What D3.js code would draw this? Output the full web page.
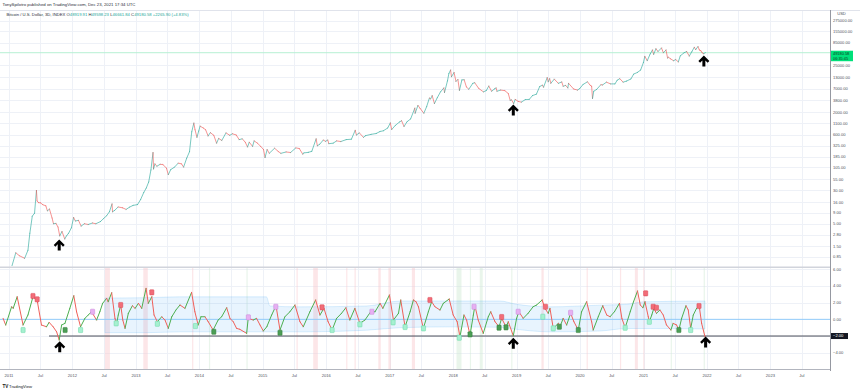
<!DOCTYPE html>
<html>
<head>
<meta charset="utf-8">
<script src="https://cdn.jsdelivr.net/npm/d3@7/dist/d3.min.js"></script>
<style>
  html, body { margin: 0; padding: 0; background: #fff; }
  svg { display: block; font-family: "Liberation Sans", Arial, sans-serif; }
</style>
</head>
<body>
<div id="chart"></div>
<script>
// BTC price track (3D candles)
const priceDates = [
  "2011-01-01","2011-02-09","2011-03-01","2011-04-01","2011-04-20","2011-05-01","2011-05-15","2011-05-28","2011-06-08","2011-06-12",
  "2011-06-20","2011-07-01","2011-07-15","2011-08-01","2011-08-10","2011-08-22","2011-09-06","2011-09-14","2011-09-28","2011-10-10",
  "2011-10-20","2011-11-02","2011-11-18","2011-11-28","2011-12-10","2011-12-26",
  "2012-01-08","2012-01-18","2012-02-05","2012-02-20","2012-03-10","2012-04-01","2012-04-25","2012-05-15","2012-06-10","2012-06-30",
  "2012-07-15","2012-08-01","2012-08-16","2012-08-19","2012-09-01","2012-09-20","2012-10-15","2012-11-05","2012-11-25","2012-12-15",
  "2013-01-10","2013-01-28","2013-02-15","2013-03-01","2013-03-15","2013-03-28","2013-04-09","2013-04-12","2013-04-20","2013-05-01",
  "2013-05-20","2013-06-05","2013-06-25","2013-07-06","2013-07-20","2013-08-10","2013-09-01","2013-09-20","2013-10-02","2013-10-20",
  "2013-11-05","2013-11-18","2013-11-30","2013-12-07","2013-12-18","2013-12-28",
  "2014-01-05","2014-01-25","2014-02-06","2014-02-20","2014-03-05","2014-03-25","2014-04-10","2014-04-22","2014-05-10","2014-06-03",
  "2014-06-25","2014-07-10","2014-08-01","2014-08-18","2014-09-05","2014-09-22","2014-10-05","2014-10-15","2014-11-03","2014-11-12",
  "2014-12-01","2014-12-20",
  "2015-01-05","2015-01-14","2015-01-26","2015-02-07","2015-03-10","2015-03-30","2015-04-15","2015-05-15","2015-06-10","2015-07-10",
  "2015-07-30","2015-08-19","2015-08-25","2015-09-20","2015-10-10","2015-11-04","2015-11-11","2015-11-25","2015-12-15","2015-12-28",
  "2016-01-10","2016-01-16","2016-02-10","2016-03-01","2016-03-25","2016-04-25","2016-05-25","2016-06-16","2016-06-23","2016-07-10",
  "2016-08-02","2016-08-15","2016-09-15","2016-10-15","2016-11-05","2016-11-25","2016-12-20",
  "2017-01-04","2017-01-12","2017-02-01","2017-02-25","2017-03-10","2017-03-24","2017-04-10","2017-05-01","2017-05-25","2017-05-27",
  "2017-06-12","2017-06-25","2017-07-16","2017-08-01","2017-08-17","2017-08-24","2017-09-02","2017-09-15","2017-10-01","2017-10-20",
  "2017-11-08","2017-11-12","2017-11-29","2017-12-07","2017-12-17","2017-12-22",
  "2018-01-06","2018-01-17","2018-01-28","2018-02-06","2018-02-20","2018-03-05","2018-03-18","2018-04-01","2018-04-24","2018-05-05",
  "2018-05-28","2018-06-24","2018-07-10","2018-07-25","2018-08-10","2018-08-28","2018-09-05","2018-09-10","2018-10-01","2018-10-25",
  "2018-11-14","2018-11-25","2018-12-03","2018-12-15","2018-12-24",
  "2019-01-10","2019-01-28","2019-02-20","2019-03-15","2019-04-02","2019-04-25","2019-05-14","2019-05-30","2019-06-05","2019-06-26",
  "2019-07-02","2019-07-10","2019-07-17","2019-08-06","2019-08-29","2019-09-18","2019-09-26","2019-10-10","2019-10-23","2019-10-27",
  "2019-11-25","2019-12-18","2019-12-31",
  "2020-01-18","2020-02-13","2020-02-28","2020-03-08","2020-03-13","2020-03-20","2020-04-05","2020-04-30","2020-05-10","2020-06-01",
  "2020-06-25","2020-07-20","2020-08-02","2020-08-17","2020-09-05","2020-09-25","2020-10-20","2020-11-05","2020-11-26","2020-12-15",
  "2020-12-31",
  "2021-01-08","2021-01-22","2021-02-08","2021-02-21","2021-02-28","2021-03-13","2021-03-25","2021-04-14","2021-04-25","2021-05-10",
  "2021-05-19","2021-05-24","2021-06-05","2021-06-22","2021-07-05","2021-07-20","2021-07-31","2021-08-22","2021-09-06","2021-09-21",
  "2021-10-05","2021-10-20","2021-10-28","2021-11-10","2021-11-18","2021-11-27","2021-12-04","2021-12-13","2021-12-23"
];
const priceValues = [
  0.30,1.05,0.90,0.78,1.20,3.0,7.5,8.8,30.0,17.0,
  15.5,15.4,13.9,13.1,10.0,11.0,6.8,5.0,5.1,4.2,
  2.6,3.3,2.2,2.6,3.0,4.0,
  7.0,5.8,6.0,4.4,5.0,4.8,5.2,5.0,5.6,6.7,
  7.6,9.5,14.5,9.5,10.3,12.3,11.8,10.8,12.2,13.4,
  14,18.5,27,34,47,90,230,95,125,110,
  122,120,100,70,92,104,130,125,105,170,
  240,700,1120,780,520,730,
  950,850,780,560,670,580,380,490,440,660,
  580,630,590,460,480,400,310,400,320,430,
  380,320,
  270,175,270,220,290,245,220,237,230,295,
  285,210,225,232,245,480,330,360,450,420,
  450,370,380,430,415,460,470,760,590,660,
  520,570,610,640,710,740,860,
  1130,790,980,1180,1270,930,1200,1400,2500,1900,
  2900,2450,1900,2700,4300,4100,4900,3200,4350,6000,
  7400,5800,10800,16000,19400,13500,
  17000,10500,11700,6500,11400,11500,7800,6900,9500,9800,
  7200,6000,6400,8200,6200,7100,7400,6200,6600,6400,
  5500,3800,3900,3200,4000,
  3600,3450,3950,4000,4900,5300,8000,8600,7700,12900,
  10300,12200,9500,11900,9500,10200,8100,8500,7400,9500,
  7000,6600,7200,
  8900,10300,8600,8100,4200,6200,6800,8800,8700,10100,
  9200,9200,11200,12200,10100,10700,12000,15600,17000,19400,
  29000,
  40500,32000,46000,57000,45000,61000,52500,63500,49000,57000,
  37000,38500,35500,32000,34000,30000,41500,49000,52500,41000,
  51500,66000,58000,68500,57000,54500,49000,46700,49180
];
const lastPrice = 49180.58;

const priceTicks = [275000,155000,85000,25000,13000,7000,3800,2000,1100,600,325,185,105,55,30,16,9,5,2.8,1.5,0.85];
const oscTicks = [6,4,2,0,-4];

// cycle oscillator turning points
const oscDates = [
  "2010-11-28","2010-12-13","2011-01-16","2011-01-25","2011-02-17","2011-03-23","2011-04-20","2011-05-19","2011-06-12","2011-07-07",
  "2011-08-05","2011-08-20","2011-09-12","2011-10-02","2011-10-17","2011-10-31","2011-11-19","2011-12-17","2012-01-09","2012-01-25",
  "2012-02-17","2012-03-13","2012-04-01","2012-04-20","2012-05-19","2012-06-07","2012-06-23","2012-07-16","2012-07-25","2012-08-14",
  "2012-09-02","2012-09-12","2012-09-21","2012-10-05","2012-10-17","2012-10-30","2012-11-18","2012-12-11","2012-12-27","2013-01-15",
  "2013-02-03","2013-02-28","2013-03-13","2013-04-02","2013-04-15","2013-05-04","2013-05-29","2013-06-17","2013-07-06","2013-07-26",
  "2013-08-19","2013-09-11","2013-10-10","2013-11-17","2013-12-06","2013-12-25","2014-01-10","2014-02-02","2014-02-21","2014-03-21",
  "2014-04-19","2014-05-09","2014-06-07","2014-06-26","2014-07-15","2014-08-03","2014-08-22","2014-09-30","2014-10-09","2014-11-07",
  "2014-11-26","2014-12-16","2015-01-04","2015-01-24","2015-02-21","2015-03-18","2015-04-10","2015-05-08","2015-06-06","2015-07-05",
  "2015-08-03","2015-08-22","2015-09-29","2015-11-01","2015-11-26","2015-12-19","2016-01-12","2016-02-04","2016-03-01","2016-03-29",
  "2016-04-23","2016-05-16","2016-06-14","2016-07-13","2016-08-11","2016-09-13","2016-10-08","2016-11-06","2016-11-22","2016-12-30",
  "2017-01-22","2017-02-20","2017-03-05","2017-03-30","2017-04-28","2017-05-17","2017-06-01","2017-06-15","2017-07-13","2017-08-11",
  "2017-08-30","2017-09-18","2017-10-17","2017-11-05","2017-12-09","2018-01-01","2018-01-24","2018-02-09","2018-03-04","2018-03-19",
  "2018-04-08","2018-04-27","2018-05-06","2018-05-25","2018-06-23","2018-07-22","2018-08-05","2018-08-30","2018-09-22","2018-10-07",
  "2018-11-01","2018-11-14","2018-12-13","2019-01-01","2019-01-14","2019-02-08","2019-03-08","2019-04-06","2019-04-26","2019-05-28",
  "2019-06-13","2019-07-02","2019-07-12","2019-07-31","2019-08-29","2019-09-08","2019-09-26","2019-10-16","2019-11-08","2019-11-27",
  "2019-12-22","2020-01-10","2020-02-08","2020-03-08","2020-03-17","2020-04-15","2020-05-11","2020-06-03","2020-06-22","2020-07-17",
  "2020-08-15","2020-08-29","2020-09-17","2020-10-16","2020-11-04","2020-11-27","2020-12-13","2020-12-28","2021-01-09","2021-01-28",
  "2021-02-03","2021-02-17","2021-03-01","2021-03-16","2021-04-05","2021-04-24","2021-05-13","2021-06-07","2021-06-20","2021-07-10",
  "2021-07-23","2021-08-08","2021-09-02","2021-09-15","2021-09-29","2021-10-14","2021-11-02","2021-11-17","2021-12-01","2021-12-20"
];
const oscValues = [
  0.12,-0.68,1.51,1.32,2.71,-0.68,0.52,2.71,2.30,-0.68,
  -0.89,-0.36,-0.89,-1.49,-2.48,-0.68,-0.48,1.32,2.83,0.91,
  -0.89,0.12,0.52,0.91,-0.08,0.91,1.92,2.52,2.11,3.19,
  0.12,-0.48,0.52,1.72,-0.08,-1.08,0.72,1.63,1.32,1.92,
  1.32,3.72,1.92,2.71,0.52,-0.29,0.31,-0.08,-1.08,0.31,
  1.12,1.72,1.32,3.24,0.91,-0.68,0.31,0.31,-0.29,-1.28,
  -0.08,0.31,1.39,0.12,-0.29,-1.08,-1.20,-1.68,0.12,-0.08,
  0.12,-0.68,-1.40,-0.89,0.52,1.63,-1.28,0.31,0.91,1.72,
  -0.29,-0.89,0.91,2.32,0.52,1.32,-0.29,-1.28,0.12,0.72,
  1.39,-0.08,1.32,-0.48,-0.08,0.91,0.91,1.92,1.32,2.92,
  -0.08,0.72,2.32,-0.89,0.91,2.32,2.11,1.51,-1.08,0.91,
  2.11,1.51,1.12,1.92,2.44,0.52,-0.29,-2.09,0.52,-0.08,
  -1.88,0.52,1.63,-0.08,-1.68,0.31,0.91,-0.29,-0.89,0.12,
  -0.89,-0.29,-1.97,0.12,0.91,0.12,0.72,1.51,1.72,2.32,
  1.32,0.72,1.32,-1.08,-0.48,-0.89,0.12,-0.68,0.72,-0.29,
  -1.28,0.91,2.11,-0.29,-1.28,0.31,1.63,0.52,0.31,0.91,
  1.92,0.12,-1.01,0.91,2.11,3.40,1.72,1.39,2.11,0.31,
  -0.29,0.52,1.32,0.72,1.12,0.52,-0.68,-1.28,-0.48,-0.68,
  -1.28,0.12,1.63,1.12,-1.08,0.52,1.32,1.63,-0.48,-2.05
];

// shaded channel around the oscillator
const bandDates = ["2012-07-06","2013-03-05","2013-09-11","2015-01-22","2015-02-11","2015-08-03","2016-08-20","2017-02-28","2017-12-13","2018-09-27","2019-01-01","2019-07-12","2020-04-23","2020-09-26","2020-12-30","2021-12-20"];
const bandUpper = [2.55,2.6,2.7,2.7,1.6,1.5,1.6,2.2,2.2,2.2,1.8,1.5,1.7,1.8,2.1,2.2];
const bandLower = [-1.6,-1.6,-1.5,-1.5,-1.5,-1.5,-1.3,-1.0,-0.9,-0.95,-1.2,-1.5,-1.4,-1.1,-1.1,-1.15];

// vertical highlight columns in the lower pane
const shadeStart = ["2012-07-06","2013-02-12","2013-11-20","2015-07-14","2015-10-18","2016-04-25","2016-06-12","2016-10-27","2016-12-24","2017-05-08","2019-05-24","2020-02-08","2020-08-18","2020-11-12","2020-12-30",
                    "2014-02-25","2014-09-29","2018-01-20","2018-04-07","2018-06-03","2018-12-01","2021-06-06","2021-12-13"];
const shadeEnd   = ["2012-08-04","2013-03-10","2013-11-24","2015-07-17","2015-11-14","2016-04-28","2016-06-15","2016-11-10","2017-01-07","2017-05-26","2019-06-06","2020-02-11","2020-08-21","2020-11-29","2021-01-02",
                    "2014-02-28","2014-10-02","2018-02-18","2018-04-10","2018-06-20","2018-12-04","2021-06-09","2021-12-16"];
const shadeKind  = ["red","red","red","red","red","red","red","red","red","red","red","red","red","red","red",
                    "green","green","green","green","green","green","green","green"];

// small signal tags on the oscillator
const tagDates = ["2011-05-19","2011-06-12","2011-03-23","2011-11-20","2012-02-17","2012-04-26","2012-09-09","2012-10-05","2013-05-04","2013-04-02","2013-12-09","2014-03-25","2014-10-10","2015-03-17","2015-04-10",
                  "2015-12-08","2016-02-04","2016-09-20","2016-07-13","2017-01-20","2017-03-30","2017-07-14","2017-08-20","2018-02-05","2018-04-08","2018-05-01","2018-09-22","2018-10-07","2018-11-01","2019-01-10",
                  "2019-06-16","2019-06-01","2019-07-31","2019-09-04","2019-11-08","2019-12-22","2020-09-17","2021-01-13","2021-02-03","2021-02-25","2021-03-16","2021-07-23","2021-09-29","2021-11-16"];
const tagValues = [2.8,2.4,-1.28,-1.28,-1.28,0.91,-0.48,1.72,-0.53,3.24,-0.8,-1.49,0.24,1.51,-1.61,
                   1.44,-1.28,0.91,-0.6,-0.36,-0.92,-1.08,2.32,-2.2,-1.8,1.51,-1.0,0.28,-0.96,0.91,
                   1.51,0.31,-1.08,-0.89,0.79,-1.28,-1.01,3.12,-0.29,1.51,1.39,-1.28,-1.28,1.6];
const tagKinds = ["red","red","mint","dark","mint","pink","mint","red","mint","red","mint","dark","pink","pink","dark",
                  "red","mint","pink","mint","mint","mint","mint","red","mint","dark","pink","dark","red","dark","pink",
                  "red","mint","mint","dark","pink","dark","mint","red","mint","red","red","dark","mint","red"];

// arrows drawn on the chart
const arrowDates = ["2011-10-17","2018-12-13","2021-12-14"];
const arrowPrice = [1.6,2250,31500];
const arrowOscDates = ["2011-10-20","2018-12-13","2021-12-24"];
const arrowOsc = [-3.29,-2.88,-2.72];

const W = 860, H = 391;
const plotRight = 830;
const pane1 = { top: 11, bottom: 266 };
const pane2 = { top: 268, bottom: 369 };
const parse = d3.timeParse("%Y-%m-%d");

const x = d3.scaleTime()
  .domain([new Date(2011, 0, 1), new Date(2022, 0, 1)])
  .range([9, 707]);
const y = d3.scaleLog().domain([0.85, 275000]).range([256.7, 20.7]);
const yo = d3.scaleLinear().domain([-4, 4]).range([352.7, 286]);

const svg = d3.select("#chart").append("svg")
  .attr("width", W).attr("height", H);

svg.append("rect").attr("width", W).attr("height", H).attr("fill", "#fff");

const defs = svg.append("defs");
defs.append("clipPath").attr("id", "clip1").append("rect")
  .attr("x", 0).attr("y", pane1.top).attr("width", plotRight).attr("height", pane1.bottom - pane1.top);
defs.append("clipPath").attr("id", "clip2").append("rect")
  .attr("x", 0).attr("y", pane2.top).attr("width", plotRight).attr("height", pane2.bottom - pane2.top);

// grid
const halfYears = d3.timeMonth.every(6).range(new Date(2011, 0, 1), new Date(2024, 0, 1));
const grid = svg.append("g");
grid.selectAll(".vg").data(halfYears).enter().append("line")
  .attr("x1", d => Math.round(x(d)) + 0.5).attr("x2", d => Math.round(x(d)) + 0.5)
  .attr("y1", pane1.top).attr("y2", pane2.bottom)
  .attr("stroke", "#eef1f7").attr("stroke-width", 1);
grid.selectAll(".hg").data(priceTicks).enter().append("line")
  .attr("x1", 0).attr("x2", plotRight)
  .attr("y1", d => Math.round(y(d)) + 0.5).attr("y2", d => Math.round(y(d)) + 0.5)
  .attr("stroke", "#eef1f7");
grid.selectAll(".og").data([6, 4, 2, -2, -4]).enter().append("line")
  .attr("x1", 0).attr("x2", plotRight)
  .attr("y1", d => Math.round(yo(d)) + 0.5).attr("y2", d => Math.round(yo(d)) + 0.5)
  .attr("stroke", "#eef1f7");

// frame lines
svg.append("line").attr("x1", 0).attr("x2", W).attr("y1", 10.5).attr("y2", 10.5).attr("stroke", "#e0e3eb");
svg.append("rect").attr("x", 0).attr("y", 266.5).attr("width", plotRight).attr("height", 1.5).attr("fill", "#d1d4dc");
svg.append("line").attr("x1", plotRight + 0.5).attr("x2", plotRight + 0.5).attr("y1", 10).attr("y2", 371).attr("stroke", "#9598a1");
svg.append("line").attr("x1", 0).attr("x2", plotRight).attr("y1", pane2.bottom + 0.5).attr("y2", pane2.bottom + 0.5).attr("stroke", "#b2b5be");

// ---- price pane ----
const p1 = svg.append("g").attr("clip-path", "url(#clip1)");
p1.append("line").attr("x1", 0).attr("x2", plotRight)
  .attr("y1", y(lastPrice)).attr("y2", y(lastPrice))
  .attr("stroke", "#b6f0d3").attr("stroke-width", 1);

const prices = priceDates.map((d, i) => ({ t: parse(d), v: priceValues[i] }));
p1.selectAll(".seg").data(d3.pairs(prices)).enter().append("line")
  .attr("x1", d => x(d[0].t)).attr("y1", d => y(d[0].v))
  .attr("x2", d => x(d[1].t)).attr("y2", d => y(d[1].v))
  .attr("stroke", d => d[1].v >= d[0].v ? "#26a69a" : "#ef5350")
  .attr("stroke-opacity", 0.62)
  .attr("stroke-width", 1)
  .attr("stroke-linecap", "round");

const arrowPath = "M0,-5.5 L5.5,0 L3.8,1.7 L1.5,-0.6 L1.5,5.5 L-1.5,5.5 L-1.5,-0.6 L-3.8,1.7 L-5.5,0 Z";
p1.selectAll(".arr").data(arrowDates).enter().append("path")
  .attr("d", arrowPath)
  .attr("transform", (d, i) => `translate(${x(parse(d))},${y(arrowPrice[i])})`)
  .attr("fill", "#000");

// ---- oscillator pane ----
const p2 = svg.append("g").attr("clip-path", "url(#clip2)");

p2.selectAll(".shade").data(shadeStart).enter().append("rect")
  .attr("x", d => x(parse(d)))
  .attr("width", (d, i) => Math.max(1.2, x(parse(shadeEnd[i])) - x(parse(d))))
  .attr("y", pane2.top).attr("height", pane2.bottom - pane2.top)
  .attr("fill", (d, i) => shadeKind[i] === "red" ? "#f8c8cc" : "#cfe8d2")
  .attr("opacity", 0.45);

const band = bandDates.map((d, i) => ({ t: parse(d), hi: bandUpper[i], lo: bandLower[i] }));
p2.append("path").datum(band)
  .attr("d", d3.area().x(d => x(d.t)).y0(d => yo(d.lo)).y1(d => yo(d.hi)).curve(d3.curveMonotoneX))
  .attr("fill", "#2196f3").attr("fill-opacity", 0.1)
  .attr("stroke", "#2196f3").attr("stroke-opacity", 0.2).attr("stroke-width", 0.8);

p2.append("line").attr("x1", 0).attr("x2", plotRight)
  .attr("y1", yo(0)).attr("y2", yo(0))
  .attr("stroke", "#90caf9").attr("stroke-width", 1);
p2.append("line").attr("x1", 49).attr("x2", plotRight)
  .attr("y1", yo(-2)).attr("y2", yo(-2))
  .attr("stroke", "#4a4e59").attr("stroke-width", 1);

const osc = oscDates.map((d, i) => ({ t: parse(d), v: oscValues[i] }));
p2.selectAll(".oseg").data(d3.pairs(osc)).enter().append("line")
  .attr("x1", d => x(d[0].t)).attr("y1", d => yo(d[0].v))
  .attr("x2", d => x(d[1].t)).attr("y2", d => yo(d[1].v))
  .attr("stroke", d => d[1].v >= d[0].v ? "#4caf50" : "#f0605a")
  .attr("stroke-width", 1)
  .attr("stroke-linecap", "round");

const tagFill = { red: "#f26d78", pink: "#e6b0f2", mint: "#a6f0d0", dark: "#4c9e55" };
const tagStroke = { red: "#d94552", pink: "#c984d9", mint: "#62d6a3", dark: "#2f7a38" };
p2.selectAll(".tag").data(tagDates).enter().append("rect")
  .attr("x", d => x(parse(d)) - 2.1).attr("y", (d, i) => yo(tagValues[i]) - 2.6)
  .attr("width", 4.2).attr("height", 5.2).attr("rx", 0.6)
  .attr("fill", (d, i) => tagFill[tagKinds[i]])
  .attr("stroke", (d, i) => tagStroke[tagKinds[i]]).attr("stroke-width", 0.5);

p2.selectAll(".arr2").data(arrowOscDates).enter().append("path")
  .attr("d", arrowPath)
  .attr("transform", (d, i) => `translate(${x(parse(d))},${yo(arrowOsc[i])})`)
  .attr("fill", "#000");

// ---- axes text ----
const axisFont = 4.1, axisColor = "#50535e";
const pAxis = svg.append("g").attr("font-size", axisFont).attr("fill", axisColor);
pAxis.selectAll("text").data(priceTicks).enter().append("text")
  .attr("x", 833).attr("y", d => y(d) + 1.4)
  .text(d => d3.format(".2f")(d));
pAxis.append("text").attr("x", 841.5).attr("y", 15).attr("text-anchor", "middle").text("USD");

const oAxis = svg.append("g").attr("font-size", axisFont).attr("fill", axisColor);
oAxis.selectAll("text").data(oscTicks).enter().append("text")
  .attr("x", 833).attr("y", d => yo(d) + 1.4)
  .text(d => d3.format(".2f")(d));

// last price tag
const lp = svg.append("g");
lp.append("rect").attr("x", 831).attr("y", y(lastPrice) - 2).attr("width", 22).attr("height", 10.5)
  .attr("fill", "#00e07a");
lp.append("text").attr("x", 833).attr("y", y(lastPrice) + 2.2).attr("font-size", 3.9).attr("fill", "#0b3d22")
  .text(d3.format(".2f")(lastPrice));
lp.append("text").attr("x", 833).attr("y", y(lastPrice) + 6.8).attr("font-size", 3.9).attr("fill", "#0b3d22")
  .text("06:35:45");

// -2 level tag
svg.append("rect").attr("x", 831).attr("y", yo(-2) - 3).attr("width", 17).attr("height", 6).attr("fill", "#131722");
svg.append("text").attr("x", 833).attr("y", yo(-2) + 1.4).attr("font-size", axisFont).attr("fill", "#fff")
  .text(d3.format(".2f")(-2));

// time axis
const tAxis = svg.append("g").attr("font-size", axisFont).attr("fill", axisColor).attr("text-anchor", "middle");
tAxis.selectAll("text").data(halfYears.filter(d => x(d) < plotRight - 5)).enter().append("text")
  .attr("x", d => x(d)).attr("y", 376.5)
  .text(d => d.getMonth() === 0 ? d3.timeFormat("%Y")(d) : "Jul");

// header
svg.append("text").attr("x", 2.5).attr("y", 6.3).attr("font-size", 4.3).attr("fill", "#2a2e39")
  .text("TonySpilotro published on TradingView.com, Dec 23, 2021 17:34 UTC");
const hdr = svg.append("text").attr("x", 6.5).attr("y", 16.3).attr("font-size", 4.2).attr("fill", "#2a2e39");
hdr.append("tspan").text("Bitcoin / U.S. Dollar, 3D, INDEX  ");
const ohlc = [["O", "48919.91"], ["H", "49598.23"], ["L", "46661.84"], ["C", "49180.58"]];
ohlc.forEach(([k, v]) => {
  hdr.append("tspan").text(k);
  hdr.append("tspan").attr("fill", "#26a69a").text(v + "  ");
});
hdr.append("tspan").attr("fill", "#26a69a").text("+2265.90 (+4.83%)");

// footer logo
const logo = svg.append("g");
logo.append("text").attr("x", 2.5).attr("y", 388).attr("font-size", 4.6).attr("font-weight", "bold").attr("fill", "#131722").text("TV");
logo.append("text").attr("x", 9).attr("y", 388).attr("font-size", 4.2).attr("fill", "#131722").text("TradingView");
</script>
</body>
</html>
